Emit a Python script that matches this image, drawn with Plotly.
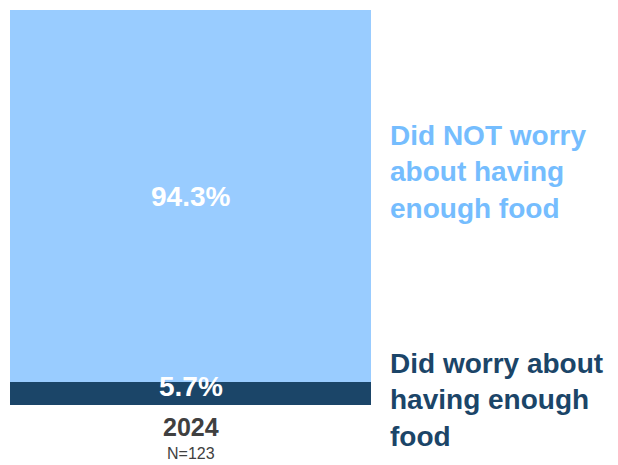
import plotly.graph_objects as go

# Survey result for a single year, stacked to 100%
year = "2024"
sample_n = 123
categories = ["Did worry about having enough food", "Did NOT worry about having enough food"]
values = [5.7, 94.3]
bar_colors = ["#1B4568", "#99CCFF"]
label_colors = ["#1B4568", "#75BDFE"]
side_labels = ["Did worry about<br>having enough<br>food", "Did NOT worry<br>about having<br>enough food"]

fig = go.Figure()
for cat, val, col in zip(categories, values, bar_colors):
    fig.add_trace(go.Bar(
        x=[year], y=[val], name=cat, marker=dict(color=col, line=dict(width=0)),
        width=1, hoverinfo="skip",
    ))

FONT = "Liberation Sans, Arial, sans-serif"

# Value labels centred inside each segment (the bar fills the plot width)
base = 0
for i, val in enumerate(values):
    fig.add_annotation(
        xref="paper", x=0.5, yref="y", y=base + val / 2,
        text=f"<b>{val:.1f}%</b>", showarrow=False,
        font=dict(family=FONT, size=28, color="white"),
        yshift=7 if i == 0 else 0,
    )
    base += val

# Series labels to the right of the bar
fig.add_annotation(
    xref="paper", yref="paper", x=1.047, y=0.59, xanchor="left", yanchor="middle",
    text=f"<b>{side_labels[1]}</b>", showarrow=False, align="left",
    font=dict(family=FONT, size=28, color=label_colors[1]),
)
fig.add_annotation(
    xref="paper", yref="paper", x=1.047, y=0.012, xanchor="left", yanchor="middle",
    text=f"<b>{side_labels[0]}</b>", showarrow=False, align="left",
    font=dict(family=FONT, size=28, color=label_colors[0]),
)

# Category label with sample size underneath
fig.add_annotation(
    xref="paper", x=0.5, yref="paper", y=-0.016, yanchor="top",
    text=(f"<span style='font-size:25px'><b>{year}</b></span><br>"
          f"<span style='font-size:16px'>N={sample_n}</span>"),
    showarrow=False,
    font=dict(family=FONT, size=18, color="#404040"),
)

fig.update_layout(
    barmode="stack", width=618, height=465,
    margin=dict(l=10, r=247, t=10, b=60),
    paper_bgcolor="white", plot_bgcolor="white", showlegend=False,
    xaxis=dict(visible=False, type="category", range=[-0.5, 0.5]),
    yaxis=dict(visible=False, range=[0, 100]),
)

fig.write_html("out.html")
